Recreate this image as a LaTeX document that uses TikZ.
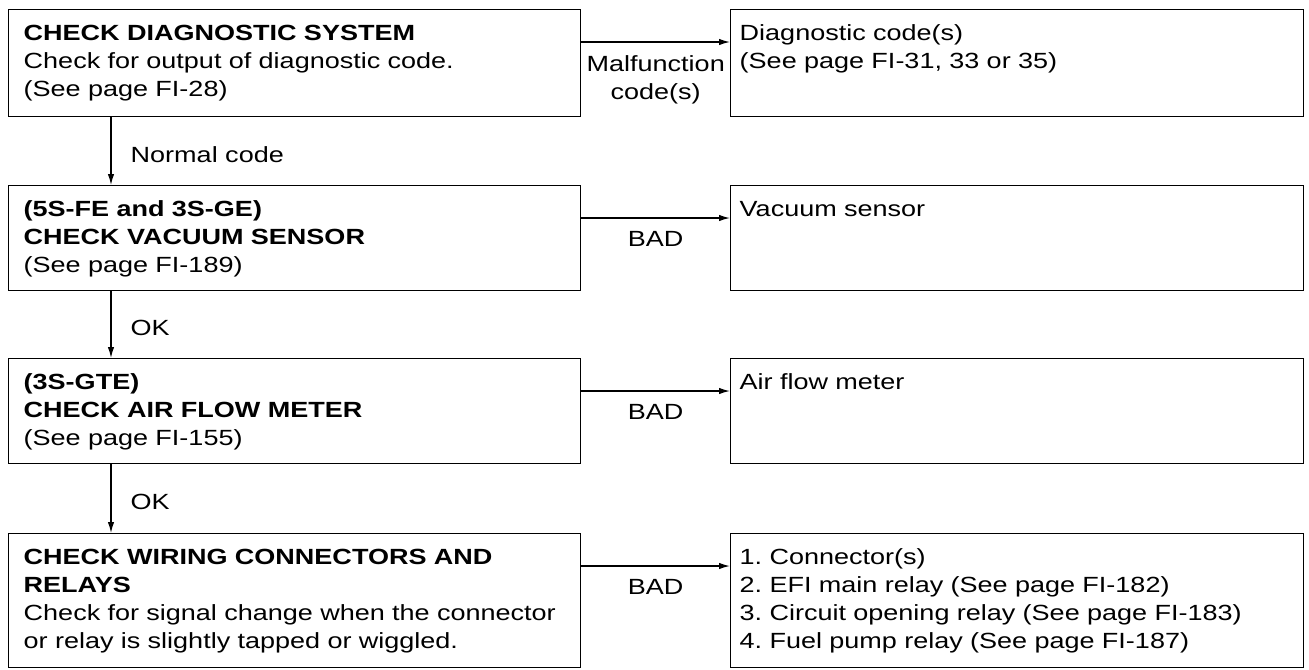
\documentclass[tikz,border=0pt]{standalone}
\usepackage{fontspec}
\setmainfont{Liberation Sans}[FakeStretch=1.23]
\usepackage{tikz}
\usetikzlibrary{arrows.meta, positioning, calc}
\frenchspacing

\begin{document}
\begin{tikzpicture}[
  line width=0.8pt,
  font=\fontsize{12.5pt}{15.9pt}\selectfont,
  stepbox/.style={draw, anchor=north west, align=left, inner ysep=0pt, text height=0.62cm},
  checkbox/.style={stepbox, text width=10.84cm, inner xsep=0.30cm},
  fixbox/.style={stepbox, text width=11.10cm, inner xsep=0.18cm},
  flow/.style={-{Latex[length=2.2mm, width=1.3mm]}},
  tag/.style={anchor=base, inner sep=0pt, align=center}
]
  \useasboundingbox (0,0) rectangle (26.18,-13.38);

  % checks on the left
  \node[checkbox, text depth=1.52cm] (diag) at (0.16,-0.18) {\textbf{CHECK DIAGNOSTIC SYSTEM}\\Check for output of diagnostic code.\\(See page FI-28)};
  \node[checkbox, text depth=1.48cm] (vac) at (0.16,-3.70) {\textbf{(5S-FE and 3S-GE)}\\\textbf{CHECK VACUUM SENSOR}\\(See page FI-189)};
  \node[checkbox, text depth=1.48cm] (afm) at (0.16,-7.16) {\textbf{(3S-GTE)}\\\textbf{CHECK AIR FLOW METER}\\(See page FI-155)};
  \node[checkbox, text depth=2.06cm] (wire) at (0.16,-10.66) {\textbf{CHECK WIRING CONNECTORS AND}\\\textbf{RELAYS}\\Check for signal change when the connector\\or relay is slightly tapped or wiggled.};

  % what to repair on the right
  \node[fixbox, text depth=1.52cm] (diagfix) at (14.6,-0.18) {Diagnostic code(s)\\(See page FI-31, 33 or 35)};
  \node[fixbox, text depth=1.48cm] (vacfix) at (14.6,-3.70) {Vacuum sensor};
  \node[fixbox, text depth=1.48cm] (afmfix) at (14.6,-7.16) {Air flow meter};
  \node[fixbox, text depth=2.06cm] (wirefix) at (14.6,-10.66) {1. Connector(s)\\2. EFI main relay (See page FI-182)\\3. Circuit opening relay (See page FI-183)\\4. Fuel pump relay (See page FI-187)};

  % down the chain
  \draw[flow] ([xshift=2.06cm]diag.south west) -- ([xshift=2.06cm]vac.north west)
    node[tag, anchor=base west, midway, xshift=0.38cm, yshift=-0.22cm] {Normal code};
  \draw[flow] ([xshift=2.06cm]vac.south west) -- ([xshift=2.06cm]afm.north west)
    node[tag, anchor=base west, midway, xshift=0.38cm, yshift=-0.22cm] {OK};
  \draw[flow] ([xshift=2.06cm]afm.south west) -- ([xshift=2.06cm]wire.north west)
    node[tag, anchor=base west, midway, xshift=0.38cm, yshift=-0.22cm] {OK};

  % across to the repairs
  \draw[flow] ([yshift=-0.66cm]diag.north east) -- ([yshift=-0.66cm]diagfix.north west)
    node[tag, midway, yshift=-1.14cm] {Malfunction\\code(s)};
  \foreach \from/\to in {vac/vacfix, afm/afmfix, wire/wirefix}
    \draw[flow] ([yshift=-0.66cm]\from.north east) -- ([yshift=-0.66cm]\to.north west)
      node[tag, midway, yshift=-0.56cm] {BAD};
\end{tikzpicture}
\end{document}
